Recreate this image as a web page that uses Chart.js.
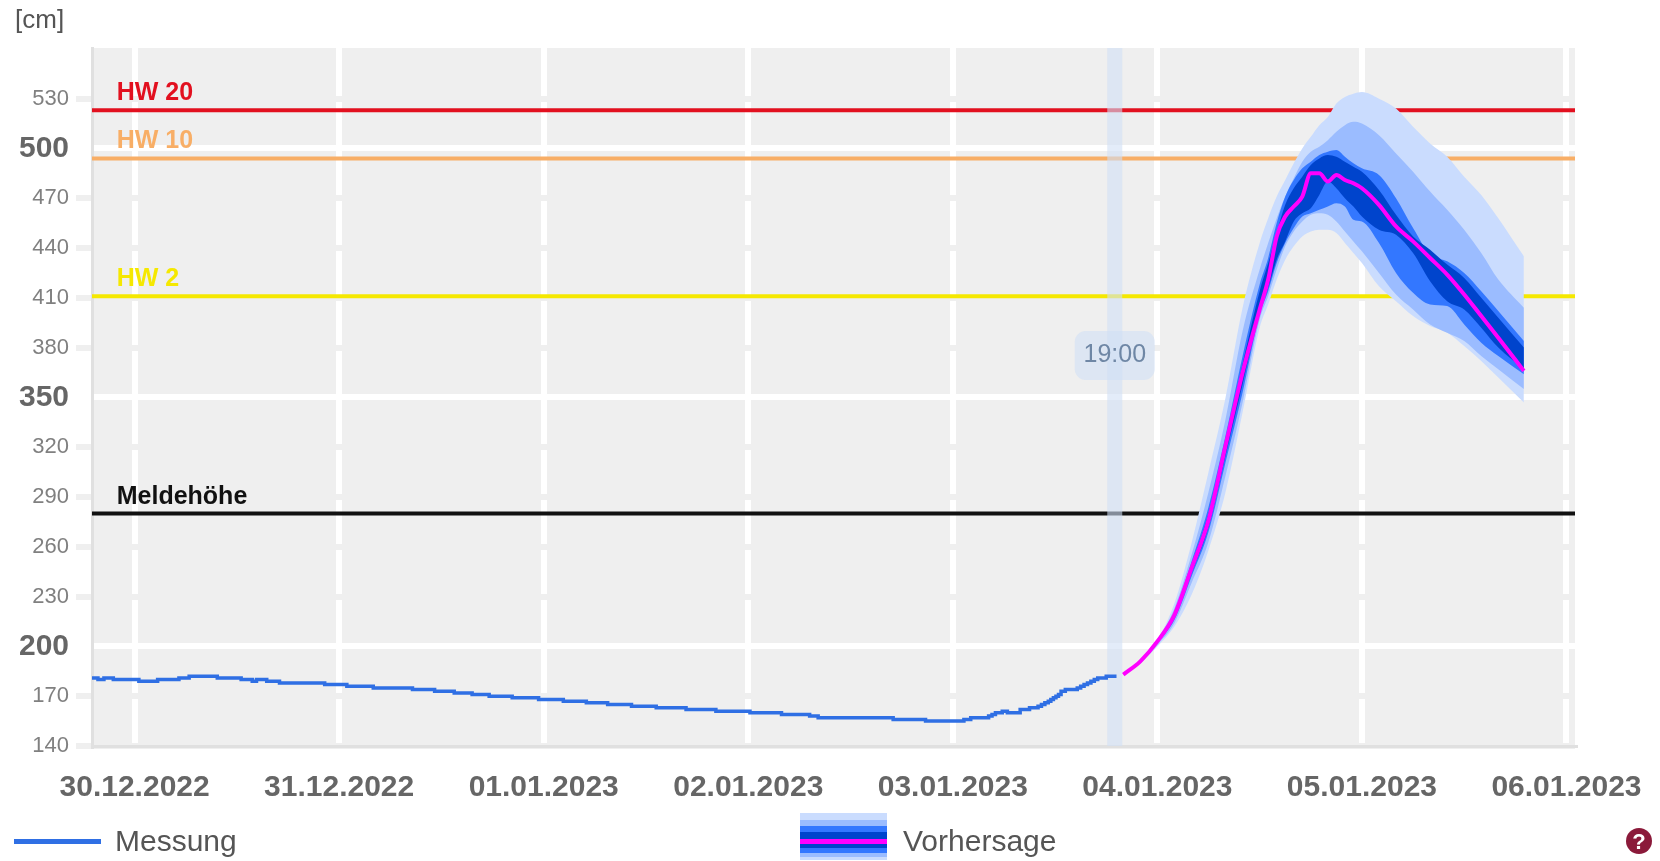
<!DOCTYPE html>
<html>
<head>
<meta charset="utf-8">
<title>Pegel</title>
<script src="https://cdn.jsdelivr.net/npm/chart.js@4"></script>
<style>
  html, body { margin: 0; padding: 0; background: #fff; overflow: hidden; }
  #wrap { position: relative; width: 1660px; height: 861px; font-family: "Liberation Sans", Arial, sans-serif; filter: blur(0.6px); }
  canvas { position: absolute; left: 0; top: 0; }
  .txt { position: absolute; color: #555; white-space: nowrap; line-height: 1; }
  #unit { left: 15px; top: 6px; font-size: 26px; }
  #lineKey { position: absolute; left: 14px; top: 839px; width: 87px; height: 5px; background: #2f6fe4; }
  #bandKey { position: absolute; left: 800px; top: 813px; width: 87px; height: 47px;
    background: linear-gradient(#cadcfe 0 7px, #9bbcff 7px 13px, #3377ff 13px 19px, #0044cc 19px 26px, #ff00ff 26px 31px, #0044cc 31px 35px, #3377ff 35px 40px, #9bbcff 40px 44px, #cadcfe 44px 47px); }
  #lblMess { left: 115px; top: 826px; font-size: 30px; }
  #lblVor { left: 903px; top: 826px; font-size: 30px; }
  #help { position: absolute; left: 1626px; top: 828px; width: 26px; height: 26px; border-radius: 50%; background: #8b1a3a; color: #fff; font-size: 22px; font-weight: bold; text-align: center; line-height: 27px; }
</style>
</head>
<body>
<div id="wrap">
  <canvas id="chart" width="1660" height="861"></canvas>
  <div id="unit" class="txt">[cm]</div>
  <div id="lineKey"></div>
  <div id="lblMess" class="txt">Messung</div>
  <div id="bandKey"></div>
  <div id="lblVor" class="txt">Vorhersage</div>
  <div id="help">?</div>
</div>
<script>
// hours are counted from 30.12.2022 00:00
const xMin = -5;
const xMax = 169;
const nowHour = 115;
const nowLabel = '19:00';

const dayHours = [0, 24, 48, 72, 96, 120, 144, 168];
const dayLabels = ['30.12.2022', '31.12.2022', '01.01.2023', '02.01.2023', '03.01.2023', '04.01.2023', '05.01.2023', '06.01.2023'];

const yMin = 140;
const yMax = 560.5;
const yTicks = [140, 170, 200, 230, 260, 290, 320, 350, 380, 410, 440, 470, 500, 530];
const yBold = [200, 350, 500];

const levelNames = ['HW 20', 'HW 10', 'HW 2', 'Meldehöhe'];
const levelValues = [523, 494, 411, 280];
const levelColors = ['#e2101f', '#f8ae66', '#f5e800', '#111111'];

// measured level, changes in whole cm
const measHours = [-5, -4.3, -3.6, -2.5, 0.5, 2.7, 5.2, 6.4, 9.7, 12.5, 13.8, 14.3, 15.5, 17, 22.3, 24.9, 28, 32.6, 35.2, 37.5, 39.6, 41.6, 44.3, 47.4, 50.3, 53, 55.5, 58.3, 61.2, 64.7, 68.2, 72.2, 75.9, 79.2, 80.2, 89, 92.8, 97.3, 98.1, 100.2, 100.6, 101, 101.8, 102.4, 103.9, 105, 106, 106.4, 106.8, 107.2, 107.5, 107.8, 108.1, 108.4, 108.7, 109.2, 110.6, 111, 111.4, 111.8, 112.2, 112.6, 113, 114, 115];
const measValues = [181, 180, 181, 180, 179, 180, 181, 182, 181, 180, 179, 180, 179, 178, 177, 176, 175, 174, 173, 172, 171, 170, 169, 168, 167, 166, 165, 164, 163, 162, 161, 160, 159, 158, 157, 156, 155, 156, 157, 158, 159, 160, 161, 160, 162, 163, 164, 165, 166, 167, 168, 169, 170, 171, 173, 174, 175, 176, 177, 178, 179, 180, 181, 182, 183];

// forecast
const foreHours = [116, 118, 120, 122, 124, 126, 128, 130, 132, 133, 134, 135, 136, 137, 138, 139, 140, 141, 142, 143, 144, 146, 148, 150, 152, 154, 156, 158, 160, 163];
const foreMain = [183, 191, 203, 219, 247, 276, 321, 365, 403, 421, 447, 459, 465, 471, 485, 485, 480, 484, 481, 479, 476, 466, 453, 444, 434, 424, 412, 399, 386, 366];
const outerUp = [183, 191, 204, 226, 262, 305, 350, 404, 443, 458, 471, 481, 491, 500, 507, 514, 519, 527, 531, 533, 534, 530, 524, 513, 503, 495, 483, 472, 458, 435];
const outerLow = [183, 190, 200, 212, 231, 258, 293, 341, 392, 406, 421, 433, 441, 447, 450, 451, 451, 449, 443, 437, 431, 417, 408, 399, 393, 389, 381, 372, 362, 347];
const midUp = [183, 191, 204, 223, 255, 293, 337, 390, 427, 443, 458, 471, 482, 492, 498, 501, 505, 510, 514, 516, 515, 508, 497, 486, 474, 463, 451, 437, 421, 404];
const midLow = [183, 190, 201, 214, 238, 263, 303, 347, 397, 411, 427, 441, 450, 456, 460, 461, 460, 456, 450, 444, 438, 425, 412, 403, 394, 389, 384, 375, 367, 355];
const innerUp = [183, 191, 203, 221, 251, 284, 327, 375, 418, 434, 455, 471, 481, 488, 492, 496, 498, 499, 495, 491, 488, 484, 470, 452, 436, 432, 425, 414, 402, 384];
const innerLow = [183, 190, 202, 216, 242, 269, 311, 353, 400, 414, 431, 443, 452, 459, 461, 463, 465, 467, 465, 457, 456, 443, 425, 413, 406, 405, 394, 383, 375, 364];
const coreUp = [183, 191, 203, 220, 249, 280, 323, 370, 414, 431, 449, 466, 476, 483, 490, 494, 496, 495, 492, 489, 486, 475, 460, 447, 439, 430, 422, 410, 398, 380];
const coreLow = [183, 190, 202, 217, 244, 272, 315, 358, 401, 416, 433, 444, 456, 461, 464, 472, 480, 476, 470, 465, 459, 451, 448, 437, 420, 408, 403, 392, 380, 367];

function toPoints(xs, ys) {
  return xs.map(function(x, i) { return { x: x, y: ys[i] }; });
}

// the scale also resolves its options once without a tick
function isBold(c) {
  return !!c.tick && yBold.includes(c.tick.value);
}

// one filled band needs an upper edge that fills to a lower edge
function bandDatasets(upper, lower, color, order, firstIndex) {
  return [
    { data: toPoints(foreHours, upper), borderWidth: 0, pointRadius: 0, backgroundColor: color, fill: firstIndex + 1, order: order, cubicInterpolationMode: 'monotone' },
    { data: toPoints(foreHours, lower), borderWidth: 0, pointRadius: 0, fill: false, order: order + 1, cubicInterpolationMode: 'monotone' }
  ];
}

const datasets = [];
levelValues.forEach(function(v, i) {
  datasets.push({ data: [{ x: xMin, y: v }, { x: xMax, y: v }], borderColor: levelColors[i], borderWidth: 4, pointRadius: 0, fill: false, order: 100 - i });
});
datasets.push(...bandDatasets(outerUp, outerLow, '#cadcfe', 60, datasets.length));
datasets.push(...bandDatasets(midUp, midLow, '#9bbcff', 50, datasets.length));
datasets.push(...bandDatasets(innerUp, innerLow, '#3377ff', 40, datasets.length));
datasets.push(...bandDatasets(coreUp, coreLow, '#0044cc', 30, datasets.length));
const measIndex = datasets.length;
datasets.push({ data: toPoints(measHours, measValues), borderColor: '#2f6fe4', borderWidth: 3.5, pointRadius: 0, stepped: 'before', fill: false, order: 2 });
datasets.push({ data: toPoints(foreHours, foreMain), borderColor: '#ff00ff', borderWidth: 4, pointRadius: 0, fill: false, order: 1, cubicInterpolationMode: 'monotone' });

// grey plot area behind the grid
const plotBackground = {
  id: 'plotBackground',
  beforeDraw: function(chart) {
    const a = chart.chartArea;
    chart.ctx.save();
    chart.ctx.fillStyle = '#efefef';
    chart.ctx.fillRect(a.left, a.top, a.right - a.left, a.bottom - a.top);
    chart.ctx.restore();
  }
};

// the "now" strip lies over the level lines but under the measured line
const nowStrip = {
  id: 'nowStrip',
  beforeDatasetDraw: function(chart, args) {
    if (args.index !== measIndex) return;
    const ctx = chart.ctx;
    const a = chart.chartArea;
    const nx = chart.scales.x.getPixelForValue(nowHour);
    ctx.save();
    ctx.fillStyle = 'rgba(208, 223, 245, 0.6)';
    ctx.fillRect(nx - 7.5, a.top, 15, a.bottom - a.top);
    ctx.beginPath();
    ctx.roundRect(nx - 40, 331, 80, 49, 11);
    ctx.fill();
    ctx.fillStyle = '#6f87a5';
    ctx.font = '25px "Liberation Sans", Arial, sans-serif';
    ctx.textAlign = 'center';
    ctx.textBaseline = 'middle';
    ctx.fillText(nowLabel, nx, 355);
    ctx.restore();
  }
};

// names above the level lines
const levelLabels = {
  id: 'levelLabels',
  afterDatasetsDraw: function(chart) {
    const ctx = chart.ctx;
    ctx.save();
    ctx.font = 'bold 25px "Liberation Sans", Arial, sans-serif';
    ctx.textAlign = 'left';
    ctx.textBaseline = 'alphabetic';
    levelNames.forEach(function(name, i) {
      ctx.fillStyle = levelColors[i];
      ctx.fillText(name, chart.scales.x.getPixelForValue(-2.1), chart.scales.y.getPixelForValue(levelValues[i]) - 10);
    });
    ctx.restore();
  }
};

new Chart(document.getElementById('chart').getContext('2d'), {
  type: 'line',
  data: { datasets: datasets },
  plugins: [plotBackground, nowStrip, levelLabels],
  options: {
    responsive: false,
    animation: false,
    devicePixelRatio: 1,
    layout: { padding: { left: 0, top: 48, right: 85, bottom: 0 } },
    plugins: { legend: { display: false }, tooltip: { enabled: false } },
    scales: {
      x: {
        type: 'linear',
        min: xMin,
        max: xMax,
        afterBuildTicks: function(scale) {
          scale.ticks = dayHours.map(function(h) { return { value: h }; });
        },
        afterFit: function(scale) {
          scale.height = 115;
          scale.paddingLeft = 0;
          scale.paddingRight = 0;
        },
        grid: { color: '#ffffff', lineWidth: 6, drawTicks: false, z: -2 },
        border: { color: '#e0e0e0', width: 3, z: 0 },
        ticks: {
          autoSkip: false,
          maxRotation: 0,
          padding: 24,
          color: '#666666',
          font: { family: '"Liberation Sans", Arial, sans-serif', size: 30, weight: 'bold' },
          callback: function(value, index) { return dayLabels[index]; }
        }
      },
      y: {
        type: 'linear',
        min: yMin,
        max: yMax,
        afterBuildTicks: function(scale) {
          scale.ticks = yTicks.map(function(v) { return { value: v }; });
        },
        afterFit: function(scale) {
          scale.width = 92;
          scale.paddingTop = 0;
          scale.paddingBottom = 0;
        },
        grid: {
          z: -1,
          lineWidth: 6,
          tickWidth: 6,
          tickLength: 16,
          color: function(c) { return isBold(c) ? '#ffffff' : '#efefef'; },
          tickColor: function(c) { return isBold(c) ? '#ffffff' : '#efefef'; }
        },
        border: { color: '#e0e0e0', width: 3, z: 0 },
        ticks: {
          autoSkip: false,
          padding: 7,
          color: function(c) { return isBold(c) ? '#666666' : '#808080'; },
          font: function(c) {
            const bold = isBold(c);
            return { family: '"Liberation Sans", Arial, sans-serif', size: bold ? 30 : 22, weight: bold ? 'bold' : 'normal' };
          },
          callback: function(value) { return value; }
        }
      }
    }
  }
});
</script>
</body>
</html>
